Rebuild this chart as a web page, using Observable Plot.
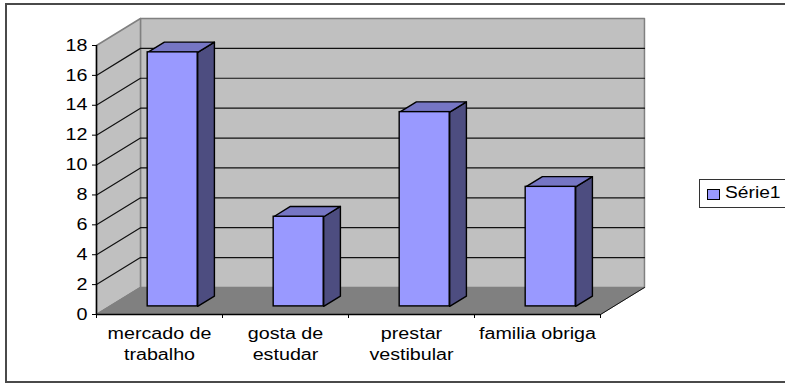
<!DOCTYPE html>
<html lang="pt">
<head>
<meta charset="utf-8">
<script src="https://cdn.jsdelivr.net/npm/d3@7"></script>
<script src="https://cdn.jsdelivr.net/npm/@observablehq/plot@0.6"></script>
<style>
  html, body { margin: 0; background: #fff; }
  #chart { position: relative; width: 785px; height: 383px; overflow: hidden;
           font-family: "Liberation Sans", Arial, sans-serif; color: #000; }
  #chart svg { display: block; position: absolute; left: 0; top: 0; background: transparent; }
  #frame { position: absolute; left: 5px; top: 3px; width: 790px; height: 376px;
           border: 2px solid #4a4a4a; box-sizing: content-box; }
  #legend { position: absolute; left: 699px; top: 179px; width: 90px; height: 27px;
            border: 1.5px solid #333; background: #fff; }
  #legend i { position: absolute; left: 7px; top: 9px; width: 11px; height: 9px;
              background: #9999ff; border: 1.5px solid #000; }
  #legend span { position: absolute; left: 25px; top: 4px; font-size: 16px; line-height: 18px;
                 transform: scaleX(1.2); transform-origin: left center; }
</style>
</head>
<body>
<div id="chart"><div id="frame"></div></div>
<script>
// Survey answers, one column per answer
const categories = ["mercado de\ntrabalho", "gosta de\nestudar", "prestar\nvestibular", "familia obriga"];
const values = [17, 6, 13, 8];
const seriesName = "Série1";
const yTicks = [0, 2, 4, 6, 8, 10, 12, 14, 16, 18];
const gridValues = [2, 4, 6, 8, 10, 12, 14, 16];

// Oblique projection: going back by one full depth moves right and up in data units
const depthX = 0.349;
const depthY = 1.807;
const yMax = 18;
const slots = categories.length;
const project = (x, y, d) => [x + d * depthX, y + d * depthY];

// Column placement inside a category slot and along the depth axis
const barWidth = 0.397;
const barFront = 0.3;
const barBack = 0.68;

const polygon = (corners, name) => corners.map(([x, y, d]) => {
  const [px, py] = project(x, y, d);
  return {x: px, y: py, name};
});
const closed = (data, fill, stroke, strokeWidth) =>
  Plot.line(data, {x: "x", y: "y", z: "name", fill, stroke, strokeWidth, curve: "linear-closed"});
const segment = (data, stroke, strokeWidth) =>
  Plot.line(data, {x: "x", y: "y", z: "name", stroke, strokeWidth});

const backWall = polygon([[0, 0, 1], [slots, 0, 1], [slots, yMax, 1], [0, yMax, 1]], "back");
const sideWall = polygon([[0, 0, 0], [0, 0, 1], [0, yMax, 1], [0, yMax, 0]], "side");
const floor = polygon([[0, 0, 0], [slots, 0, 0], [slots, 0, 1], [0, 0, 1]], "floor");

const gridLines = gridValues.flatMap(v =>
  polygon([[0, v, 0], [0, v, 1], [slots, v, 1]], "grid" + v));
const floorEdge = polygon([[slots, 0, 0], [slots, 0, 1]], "edge");

const bars = values.map((v, i) => {
  const left = i + 0.5 - barWidth / 2;
  const right = left + barWidth;
  return {
    v,
    top: polygon([[left, v, barFront], [right, v, barFront], [right, v, barBack], [left, v, barBack]], "top" + i),
    side: polygon([[right, 0, barFront], [right, 0, barBack], [right, v, barBack], [right, v, barFront]], "side" + i),
    x1: project(left, 0, barFront)[0],
    x2: project(right, 0, barFront)[0],
    y1: project(0, 0, barFront)[1],
    y2: project(0, v, barFront)[1]
  };
});

const plot = Plot.plot({
  width: 785,
  height: 383,
  marginLeft: 96,
  marginRight: 185,
  marginTop: 45,
  marginBottom: 69,
  style: {fontFamily: '"Liberation Sans", Arial, sans-serif', fontSize: "16px", background: "transparent", overflow: "visible"},
  x: {domain: [0, slots]},
  y: {domain: [0, yMax]},
  marks: [
    closed(backWall, "#c0c0c0", "#808080", 1.5),
    closed(sideWall, "#c0c0c0", "#808080", 1.5),
    closed(floor, "#808080", "#808080", 1),
    segment(gridLines, "#111", 1.2),
    segment(floorEdge, "#111", 1),
    bars.flatMap(b => [
      closed(b.side, "#4d4d80", "#000", 1.4),
      closed(b.top, "#7676c4", "#000", 1.4)
    ]),
    Plot.rect(bars, {x1: "x1", x2: "x2", y1: "y1", y2: "y2", fill: "#9999ff", stroke: "#000", strokeWidth: 1.4}),
    Plot.ruleX([0], {stroke: "#000", strokeWidth: 1.5}),
    Plot.ruleY([0], {stroke: "#000", strokeWidth: 1.5}),
    Plot.axisY({ticks: yTicks, tickSize: 4, tickPadding: 5, label: null, stroke: "#000", fill: "#000", fontSize: 16}),
    Plot.axisX({ticks: d3.range(slots + 1), tickSize: 4, tickFormat: () => "", label: null, stroke: "#000"}),
    Plot.text(categories, {
      x: (d, i) => i + 0.5, y: 0, text: d => d,
      lineAnchor: "top", dy: 9, lineHeight: 1.35, fill: "#000", fontSize: 16
    })
  ]
});

const chart = document.getElementById("chart");
chart.appendChild(plot);

// The lettering is set wide: stretch each line of text horizontally around its anchor
const stretch = 1.23;
plot.querySelectorAll("text").forEach(t => {
  const lines = t.querySelectorAll("tspan");
  (lines.length ? lines : [t]).forEach(el => {
    if (!el.textContent) return;
    el.setAttribute("textLength", (el.getComputedTextLength() * stretch).toFixed(1));
    el.setAttribute("lengthAdjust", "spacingAndGlyphs");
  });
});

const legend = d3.select(chart).append("div").attr("id", "legend");
legend.append("i");
legend.append("span").text(seriesName);
</script>
</body>
</html>
